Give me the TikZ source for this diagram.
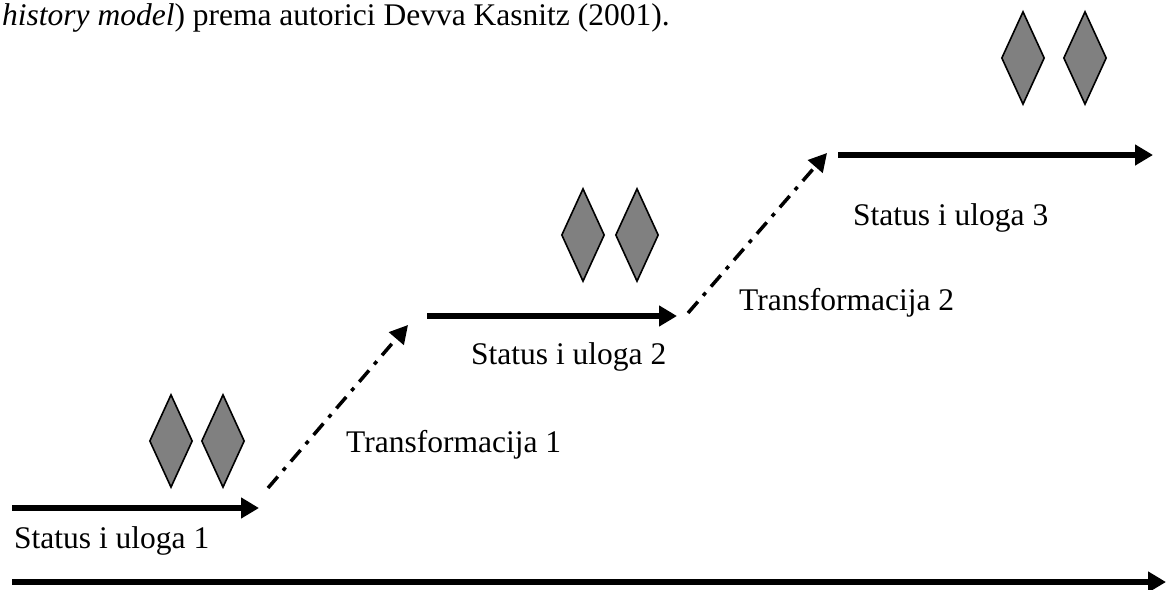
\documentclass[tikz,border=0pt]{standalone}
\usepackage{fontspec}
\setmainfont{Liberation Serif}
\usetikzlibrary{arrows.meta,shapes.geometric}
\begin{document}
\begin{tikzpicture}[x=1pt,y=-1pt,
  lbl/.style={anchor=base west,inner sep=0pt,font=\fontsize{31.5}{38}\selectfont},
  gem/.style={diamond,draw=black,line width=1.6pt,fill={rgb,255:red,128;green,128;blue,128},minimum width=43pt,minimum height=93pt,inner sep=0pt},
  solidarrow/.style={line width=6pt,-{Triangle[length=18pt,width=20pt]}},
  transarrow/.style={line width=3.5pt,dash pattern=on 15pt off 8pt on 4pt off 8pt,-{Triangle[length=18pt,width=19pt]}}]
\useasboundingbox (0,0) rectangle (1166,589);
% title fragment
\node[lbl] (title) at (2,25) {\textit{history model}) prema autorici Devva Kasnitz (2001).};
% coordinates of arrow ends
\coordinate (a1s) at (12,508);
\coordinate (a1e) at (259,508);
\coordinate (t1s) at (268,488);
\coordinate (t1e) at (408,325);
\coordinate (a2s) at (427,316);
\coordinate (a2e) at (677,316);
\coordinate (t2s) at (688,313);
\coordinate (t2e) at (827,153);
\coordinate (a3s) at (838,155);
\coordinate (a3e) at (1153,155);
\coordinate (bs) at (12,582);
\coordinate (be) at (1166,582);
% arrows
\draw[solidarrow] (a1s) -- (a1e);
\draw[solidarrow] (a2s) -- (a2e);
\draw[solidarrow] (a3s) -- (a3e);
\draw[solidarrow] (bs) -- (be);
\draw[transarrow] (t1s) -- (t1e);
\draw[transarrow] (t2s) -- (t2e);
% diamonds
\node[gem] (d1a) at (171,441) {};
\node[gem] (d1b) at (223,441) {};
\node[gem] (d2a) at (583,235) {};
\node[gem] (d2b) at (637,235) {};
\node[gem] (d3a) at (1023,58) {};
\node[gem] (d3b) at (1085,58) {};
% labels
\node[lbl] (s1) at (14,548) {Status i uloga 1};
\node[lbl] (s2) at (471,364) {Status i uloga 2};
\node[lbl] (s3) at (853,225) {Status i uloga 3};
\node[lbl] (tr1) at (346,452) {Transformacija 1};
\node[lbl] (tr2) at (739,310) {Transformacija 2};
\end{tikzpicture}
\end{document}
